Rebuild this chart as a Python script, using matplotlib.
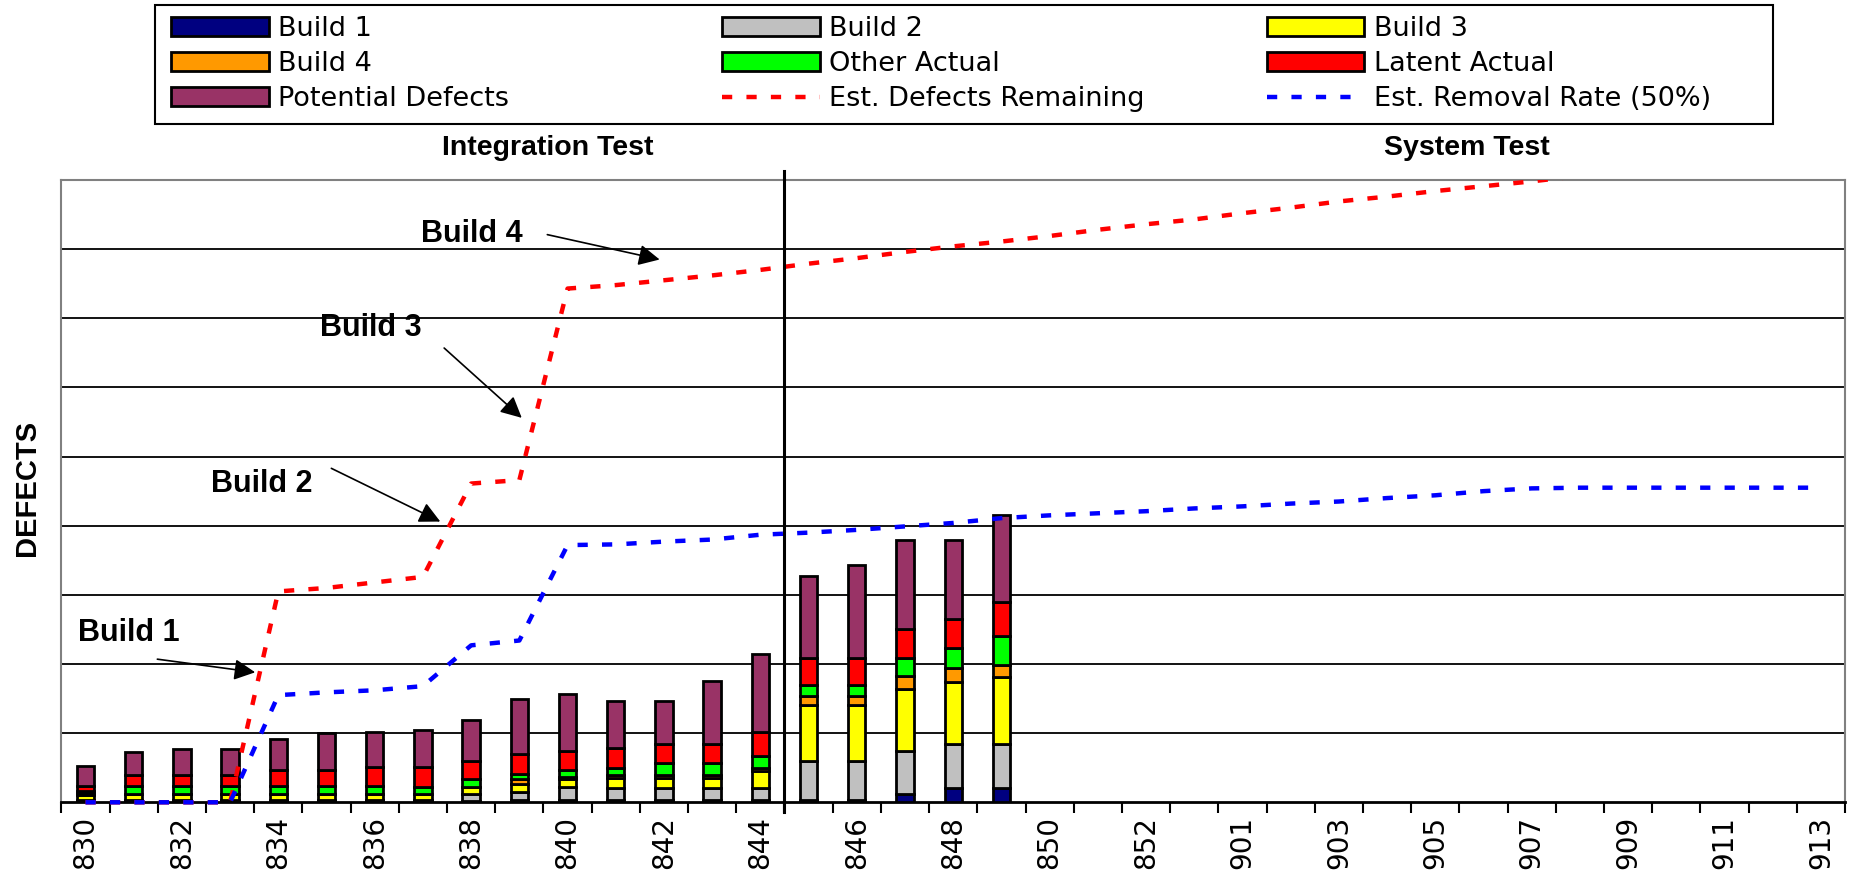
import numpy as np
import matplotlib.pyplot as plt
from matplotlib.patches import Rectangle

plt.rcParams["font.family"] = ["DejaVu Sans"]

W, H = 1856, 883

# weekly reporting points (only every other one is labelled)
weeks = ["830", "831", "832", "833", "834", "835", "836", "837", "838", "839",
         "840", "841", "842", "843", "844", "845", "846", "847", "848", "849",
         "850", "851", "852", "900", "901", "902", "903", "904", "905", "906",
         "907", "908", "909", "910", "911", "912", "913"]

# stacked defect counts, weeks 830..849
build1 = [0.2, 0.2, 0.2, 0.2, 0.2, 0.2, 0.2, 0.2, 0.2, 0.4,
          0.4, 0.4, 0.4, 0.4, 0.4, 0.4, 0.4, 1.2, 2.1, 2.1]
build2 = [0.2, 0.2, 0.2, 0.2, 0.2, 0.2, 0.2, 0.2, 1.0, 1.15,
          1.85, 1.7, 1.7, 1.7, 1.7, 5.6, 5.6, 6.2, 6.3, 6.3]
build3 = [0.6, 0.75, 0.75, 0.75, 0.75, 0.75, 0.75, 0.85, 1.05, 1.05,
          1.1, 1.4, 1.4, 1.4, 2.4, 8.0, 8.0, 9.0, 9.0, 9.7]
build4 = [0.3, 0.0, 0.0, 0.0, 0.0, 0.0, 0.0, 0.0, 0.0, 0.75,
          0.35, 0.5, 0.5, 0.5, 0.5, 1.4, 1.4, 1.8, 2.0, 1.8]
other_actual = [0.4, 1.15, 1.15, 1.15, 1.15, 1.15, 1.15, 1.0, 1.05, 0.7,
                0.95, 0.9, 1.7, 1.7, 1.7, 1.6, 1.6, 2.6, 2.9, 4.2]
latent_actual = [0.6, 1.7, 1.7, 1.7, 2.3, 2.3, 2.8, 2.8, 2.7, 3.0,
                 2.75, 3.0, 2.75, 2.75, 3.4, 3.9, 3.9, 4.2, 4.2, 4.8]
potential = [3.0, 3.3, 3.7, 3.7, 4.5, 5.4, 5.0, 5.45, 5.9, 7.95,
             8.3, 6.8, 6.25, 9.05, 11.3, 11.8, 13.4, 13.0, 11.5, 12.6]

# estimates over the whole schedule
est_remaining = [0, 0, 0, 0, 30.5, 31.0, 31.8, 32.6, 46.1, 46.6,
                 74.3, 74.8, 75.5, 76.2, 77.0, 77.9, 78.7, 79.6, 80.4, 81.1,
                 81.9, 82.8, 83.6, 84.3, 85.2, 86.0, 86.9, 87.6, 88.4, 89.1,
                 89.8, 90.6, 91.0, 91.2, 91.4, 91.5, 91.6]
est_removal = [0, 0, 0, 0, 15.5, 15.9, 16.2, 16.8, 22.7, 23.4,
               37.2, 37.3, 37.7, 38.0, 38.7, 39.0, 39.4, 39.9, 40.4, 41.1,
               41.5, 41.8, 42.1, 42.5, 42.8, 43.2, 43.5, 44.0, 44.4, 45.0,
               45.4, 45.5, 45.5, 45.5, 45.5, 45.5, 45.5]

stack = [build1, build2, build3, build4, other_actual, latent_actual, potential]
stack_names = ["Build 1", "Build 2", "Build 3", "Build 4", "Other Actual",
               "Latent Actual", "Potential Defects"]
stack_colors = ["#000080", "#C0C0C0", "#FFFF00", "#FF9900", "#00FF00",
                "#FF0000", "#993366"]

fig = plt.figure(figsize=(W / 100, H / 100), dpi=100)
ax = fig.add_axes([61.4 / W, 1 - 802.3 / H, (1845 - 61.4) / W, (802.3 - 180) / H])

x = np.arange(len(weeks))
xb = np.arange(len(build1))

handles = []
bottom = np.zeros(len(xb))
for vals, name, col in zip(stack, stack_names, stack_colors):
    b = ax.bar(xb, vals, width=0.36, bottom=bottom, color=col,
               edgecolor="black", linewidth=2.0, label=name, zorder=3)
    bottom += np.array(vals)
    handles.append(b)

clip = Rectangle((0, -0.02), 1, 1.02, transform=ax.transAxes)
ln_rem, = ax.plot(x, est_remaining, color="#FF0000", lw=3.2, dashes=(2.3, 3.2),
                  zorder=4, label="Est. Defects Remaining")
ln_rate, = ax.plot(x, est_removal, color="#0000FF", lw=3.2, dashes=(2.3, 3.2),
                   zorder=4, label="Est. Removal Rate (50%)")
for ln in (ln_rem, ln_rate):
    ln.set_clip_path(clip)
handles += [ln_rem, ln_rate]

ax.set_xlim(-0.5, len(weeks) - 0.5)
ax.set_ylim(0, 90)

# horizontal grid, no y labels
ax.set_yticks(np.arange(10, 90, 10))
ax.tick_params(axis="y", length=0, labelleft=False)
ax.yaxis.grid(True, color="black", lw=1.3, zorder=1)
ax.set_axisbelow(True)

# x labels on every other week, tick marks between weeks
ax.set_xticks(x[::2])
ax.set_xticklabels(weeks[::2], rotation=90, fontsize=20)
ax.set_xticks(np.arange(-0.5, len(weeks), 1), minor=True)
ax.tick_params(axis="x", which="major", length=0, pad=10)
ax.tick_params(axis="x", which="minor", length=8, width=1.5, color="black")

for side in ("top", "left", "right"):
    ax.spines[side].set_color("#808080")
    ax.spines[side].set_linewidth(1.5)
ax.spines["bottom"].set_color("black")
ax.spines["bottom"].set_linewidth(2)

# integration / system test boundary
split = weeks.index("845") - 0.5
ax.axvline(split, ymin=-0.015, ymax=1.015, color="black", lw=2.2,
           clip_on=False, zorder=5)

bold = dict(family="Liberation Sans", fontweight="bold")
xa = ax.get_xaxis_transform()
ax.text(9.58, 1.051, "Integration Test", transform=xa, ha="center", va="center",
        fontsize=20.5, **bold)
ax.text(28.65, 1.051, "System Test", transform=xa, ha="center", va="center",
        fontsize=20.5, **bold)

# build drop callouts: label, text anchor, arrow tail, arrow tip
callouts = [
    ("Build 1", (-0.15, 23.4), (1.49, 20.7), (3.52, 18.8)),
    ("Build 2", (2.61, 44.9), (5.1, 48.3), (7.36, 40.6)),
    ("Build 3", (4.87, 67.4), (7.44, 65.7), (9.05, 55.6)),
    ("Build 4", (6.95, 81.1), (9.58, 82.1), (11.91, 78.5)),
]
for label, txy, tail, tip in callouts:
    ax.text(*txy, label, ha="left", va="baseline", fontsize=22, zorder=6, **bold)
    ax.annotate("", xy=tip, xytext=tail, zorder=6,
                arrowprops=dict(arrowstyle="-|>", color="black", lw=1.2,
                                mutation_scale=32, shrinkA=0, shrinkB=0))

fig.text(27.5 / W, 1 - 488 / H, "DEFECTS", rotation=90, ha="center",
         va="center", fontsize=21, **bold)

# legend: three columns laid out row by row inside one box
labels = stack_names + ["Est. Defects Remaining", "Est. Removal Rate (50%)"]
col_x = [171, 722, 1267]
for j, px in enumerate(col_x):
    idx = [j, j + 3, j + 6]
    fig.legend([handles[k] for k in idx], [labels[k] for k in idx],
               loc="upper left", bbox_to_anchor=(px / W, 1 - 16 / H),
               frameon=False, borderpad=0, borderaxespad=0,
               handlelength=3.6, handleheight=0.7, handletextpad=0.35,
               labelspacing=0.34, prop={"family": "DejaVu Sans", "size": 19.5})
fig.add_artist(Rectangle((155 / W, 1 - 124 / H), (1773 - 155) / W, 119 / H,
                         transform=fig.transFigure, fill=False,
                         edgecolor="black", lw=1.5))

fig.savefig("out.png", dpi=100)
